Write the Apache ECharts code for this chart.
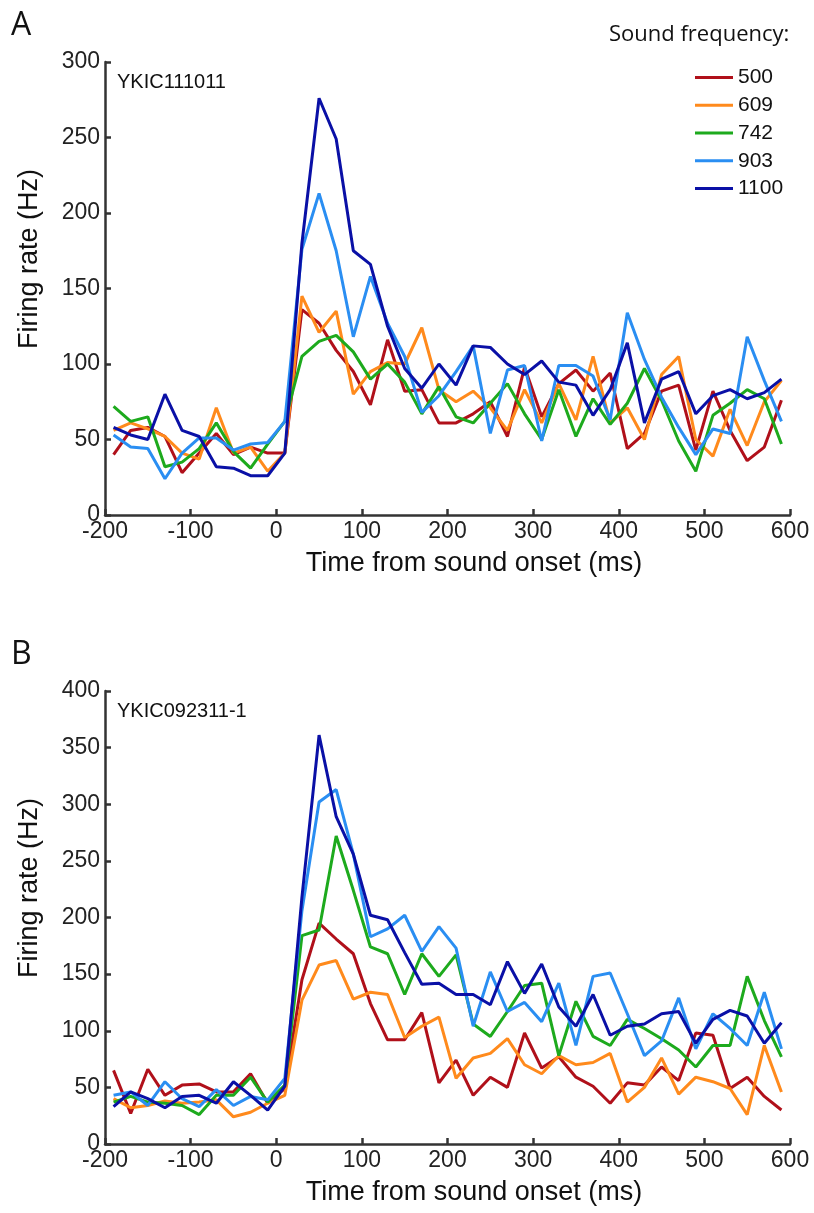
<!DOCTYPE html>
<html>

<head>
    <meta charset="UTF-8">
    <script src="https://cdn.jsdelivr.net/npm/echarts@6.0.0/dist/echarts.min.js"></script>
</head>

<body style="margin:0;background:#fff;">
    <div id="main" style="width: 814px; height: 1213px;"></div>
    <script>
        // time bins (ms), 20 ms steps
        var time = [];
        for (var t = -190; t <= 590; t += 20) time.push(t);

        var freqNames = ['500', '609', '742', '903', '1100'];
        var colors = ['#B0101A', '#FF8A1C', '#1DAA1D', '#2A8EF2', '#0A10A6'];

        // panel A: YKIC111011
        var a500 = [40, 56, 58, 52, 28, 41, 54, 40, 45, 41, 41, 136, 127, 109, 95, 73, 116, 82, 83, 61,
            61, 67, 75, 52, 98, 65, 87, 96, 82, 94, 44, 54, 82, 86, 43, 82, 56, 36, 45, 76];
        var a609 = [56, 61, 57, 52, 41, 37, 71, 41, 45, 29, 41, 145, 121, 135, 80, 95, 101, 100, 124, 83,
            75, 82, 71, 56, 83, 61, 87, 63, 105, 61, 71, 50, 93, 105, 50, 39, 70, 46, 75, 89];
        var a742 = [72, 62, 65, 32, 35, 44, 61, 42, 31, 47, 62, 105, 115, 119, 108, 90, 100, 88, 67, 85,
            65, 61, 74, 87, 67, 50, 83, 52, 77, 60, 74, 97, 76, 49, 29, 66, 74, 83, 77, 47];
        var a903 = [53, 45, 44, 24, 41, 51, 51, 43, 47, 48, 62, 176, 213, 175, 118, 158, 127, 105, 68, 79,
            95, 112, 54, 96, 99, 49, 99, 99, 92, 63, 134, 103, 78, 58, 40, 57, 54, 118, 89, 62];
        var a1100 = [58, 53, 50, 80, 56, 52, 32, 31, 26, 26, 41, 180, 276, 249, 175, 166, 125, 97, 84, 100,
            86, 112, 111, 100, 93, 102, 88, 86, 66, 83, 114, 61, 90, 95, 67, 79, 83, 77, 81, 90];

        // panel B: YKIC092311-1
        var b500 = [65, 27, 66, 43, 52, 53, 46, 46, 62, 36, 49, 145, 195, 181, 168, 124, 92, 92, 116, 54,
            74, 43, 59, 50, 98, 67, 77, 59, 51, 36, 54, 52, 68, 56, 98, 96, 49, 59, 42, 30];
        var b609 = [40, 32, 34, 38, 36, 37, 39, 24, 28, 36, 43, 127, 158, 162, 128, 134, 132, 94, 104, 112,
            58, 76, 80, 93, 70, 62, 78, 70, 72, 80, 37, 50, 76, 44, 59, 55, 49, 26, 87, 46];
        var b742 = [37, 42, 37, 36, 34, 26, 43, 43, 59, 37, 52, 184, 189, 272, 224, 174, 168, 132, 168, 148,
            167, 106, 95, 117, 140, 142, 78, 126, 95, 87, 110, 102, 93, 83, 68, 87, 87, 148, 109, 77];
        var b903 = [43, 46, 34, 55, 40, 33, 48, 34, 42, 39, 58, 206, 302, 313, 256, 183, 190, 202, 170, 192,
            173, 104, 152, 117, 125, 108, 142, 87, 148, 151, 115, 78, 91, 129, 84, 115, 102, 87, 134, 84];
        var b1100 = [33, 46, 40, 32, 42, 43, 36, 55, 43, 30, 51, 218, 361, 289, 256, 202, 198, 169, 141, 142,
            132, 132, 123, 161, 133, 159, 121, 104, 132, 96, 104, 106, 115, 117, 89, 110, 118, 113, 89, 107];

        var panelA = [a500, a609, a742, a903, a1100];
        var panelB = [b500, b609, b742, b903, b1100];

        var axisColor = '#333';
        var labelFont = { color: '#222', fontSize: 23, fontFamily: 'Liberation Sans' };

        function pairs(arr) {
            return time.map(function (t, i) { return [t, arr[i]]; });
        }

        function xAxisFor(gridIndex) {
            return {
                type: 'value', gridIndex: gridIndex, min: -200, max: 600, interval: 100,
                axisLine: { onZero: false, lineStyle: { color: axisColor, width: 2.5 } },
                axisTick: { inside: true, length: 6, lineStyle: { color: axisColor, width: 2.5 } },
                axisLabel: Object.assign({ margin: 5 }, labelFont),
                splitLine: { show: false }
            };
        }

        function yAxisFor(gridIndex, max) {
            return {
                type: 'value', gridIndex: gridIndex, min: 0, max: max, interval: 50,
                axisLine: { show: true, onZero: false, lineStyle: { color: axisColor, width: 2.5 } },
                axisTick: { show: true, inside: true, length: 6, lineStyle: { color: axisColor, width: 2.5 } },
                axisLabel: Object.assign({ margin: 5 }, labelFont),
                splitLine: { show: false }
            };
        }

        var series = [];
        [panelA, panelB].forEach(function (panel, p) {
            panel.forEach(function (arr, k) {
                series.push({
                    name: freqNames[k],
                    type: 'line',
                    xAxisIndex: p,
                    yAxisIndex: p,
                    data: pairs(arr),
                    symbol: 'none',
                    lineStyle: { color: colors[k], width: 3 },
                    itemStyle: { color: colors[k] },
                    animation: false
                });
            });
        });

        function label(txt, x, y, font, align, extra) {
            return Object.assign({
                type: 'text', x: x, y: y,
                style: { text: txt, font: font, fill: '#111', textAlign: align || 'left', textVerticalAlign: 'middle' }
            }, extra || {});
        }

        var yTitle = { rotation: Math.PI / 2 };
        var axisFont = '27px "Liberation Sans"';

        var graphics = [
            label('A', 11, 26, '32px "Open Sans"'),
            label('B', 11, 655, '32px "Open Sans"'),
            label('Sound frequency:', 609, 35, '22px "Open Sans"'),
            label('YKIC111011', 117, 82, '20px "Liberation Sans"'),
            label('YKIC092311-1', 117, 711, '20px "Liberation Sans"'),
            label('Time from sound onset (ms)', 474, 564, axisFont, 'center'),
            label('Time from sound onset (ms)', 474, 1193, axisFont, 'center'),
            label('Firing rate (Hz)', 30, 259, axisFont, 'center', yTitle),
            label('Firing rate (Hz)', 30, 888, axisFont, 'center', yTitle)
        ];

        var myChart = echarts.init(document.getElementById('main'));
        var option = {
            backgroundColor: '#fff',
            graphic: graphics,
            legend: {
                data: freqNames,
                orient: 'vertical',
                left: 690,
                top: 62,
                icon: 'rect',
                itemWidth: 38,
                itemHeight: 3,
                itemGap: 6.75,
                textStyle: { fontSize: 21, color: '#111', fontFamily: 'Liberation Sans', lineHeight: 20 }
            },
            grid: [
                { left: 105, right: 24, top: 62, height: 453 },
                { left: 105, right: 24, top: 691, height: 453 }
            ],
            xAxis: [xAxisFor(0), xAxisFor(1)],
            yAxis: [yAxisFor(0, 300), yAxisFor(1, 400)],
            series: series
        };
        option && myChart.setOption(option);
    </script>
</body>

</html>
